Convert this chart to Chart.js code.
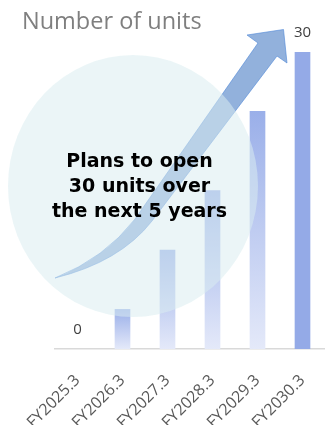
<!DOCTYPE html>
<html>
<head>
<meta charset="utf-8">
<script src="https://cdn.jsdelivr.net/npm/chart.js@4"></script>
<style>
  body { margin: 0; background: #fff; }
  #wrap { width: 325px; height: 425px; }
</style>
</head>
<body>
<div id="wrap"><canvas id="unitsChart" width="325" height="425"></canvas></div>
<script>
// data
const categories = ['FY2025.3', 'FY2026.3', 'FY2027.3', 'FY2028.3', 'FY2029.3', 'FY2030.3'];
const units = [0, 4, 10, 16, 24, 30];
const labelledIdx = [0, 5]; // only first and last bar get a value label
const chartTitle = 'Number of units';
const callout = ['Plans to open', '30 units over', 'the next 5 years'];

const lastIdx = units.length - 1;

// gradient per bar, light at the base
function barColor(ctx) {
  const chart = ctx.chart;
  const i = ctx.dataIndex;
  if (!units[i]) return 'rgba(0,0,0,0)';
  if (!chart.chartArea) return '#9aafe9';
  if (i === lastIdx) return '#94aae7';
  const y = chart.scales.y;
  const top = y.getPixelForValue(units[i]);
  const bot = y.getPixelForValue(0);
  const g = chart.ctx.createLinearGradient(0, top, 0, bot);
  g.addColorStop(0, '#9aafe9');
  g.addColorStop(1, '#e4e9f9');
  return g;
}

// arrow, circle, callout, labels, title
const decorations = {
  id: 'decorations',
  afterDraw(chart) {
    const c = chart.ctx;
    const x = chart.scales.x, y = chart.scales.y;
    c.save();

    // arrow: curved tail, straight shaft, head
    c.beginPath();
    c.moveTo(55, 278);
    c.quadraticCurveTo(120, 262, 152, 221);
    c.lineTo(277, 56);
    c.lineTo(287, 63);
    c.lineTo(283.5, 29.5);
    c.lineTo(247, 35);
    c.lineTo(258, 43);
    c.lineTo(135, 219);
    c.quadraticCurveTo(105, 258, 55, 278);
    c.closePath();
    c.fillStyle = 'rgba(79,129,199,0.62)';
    c.fill();
    c.strokeStyle = 'rgba(79,135,215,0.6)';
    c.lineWidth = 1;
    c.stroke();

    // pale circle on top
    c.beginPath();
    c.ellipse(133, 186, 125, 131, 0, 0, Math.PI * 2);
    c.fillStyle = 'rgba(218,236,240,0.54)';
    c.fill();

    // callout text
    c.fillStyle = '#000';
    c.font = 'bold 19px "DejaVu Sans"';
    c.textAlign = 'center';
    c.textBaseline = 'alphabetic';
    callout.forEach((line, k) => c.fillText(line, 139.5, 167 + k * 25));

    // value labels
    c.fillStyle = '#404040';
    c.font = '15px "Open Sans"';
    labelledIdx.forEach(i => {
      c.fillText(String(units[i]), x.getPixelForValue(i), y.getPixelForValue(units[i]) - 15);
    });

    // title
    c.fillStyle = '#7f7f7f';
    c.font = '23.5px "Open Sans"';
    c.textAlign = 'left';
    c.fillText(chartTitle, 22, 29);
    c.restore();
  }
};

new Chart(document.getElementById('unitsChart'), {
  type: 'bar',
  data: {
    labels: categories,
    datasets: [{
      data: units,
      backgroundColor: barColor,
      barThickness: 15,
      borderWidth: 0
    }]
  },
  options: {
    responsive: false,
    animation: false,
    layout: { padding: { left: 55, right: 0, top: 52, bottom: 0 } },
    plugins: { legend: { display: false }, tooltip: { enabled: false } },
    scales: {
      x: {
        grid: { display: false, drawTicks: false },
        border: { display: true, color: '#d9d9d9', width: 1.5 },
        ticks: {
          color: '#595959',
          font: { family: 'Open Sans', size: 16 },
          minRotation: 45,
          maxRotation: 45,
          padding: 22
        },
        afterFit(scale) {
          scale.height = 76;
          scale.paddingLeft = 0;
          scale.paddingRight = 0;
        }
      },
      y: {
        display: false,
        min: 0,
        max: 30
      }
    }
  },
  plugins: [decorations]
});
</script>
</body>
</html>
